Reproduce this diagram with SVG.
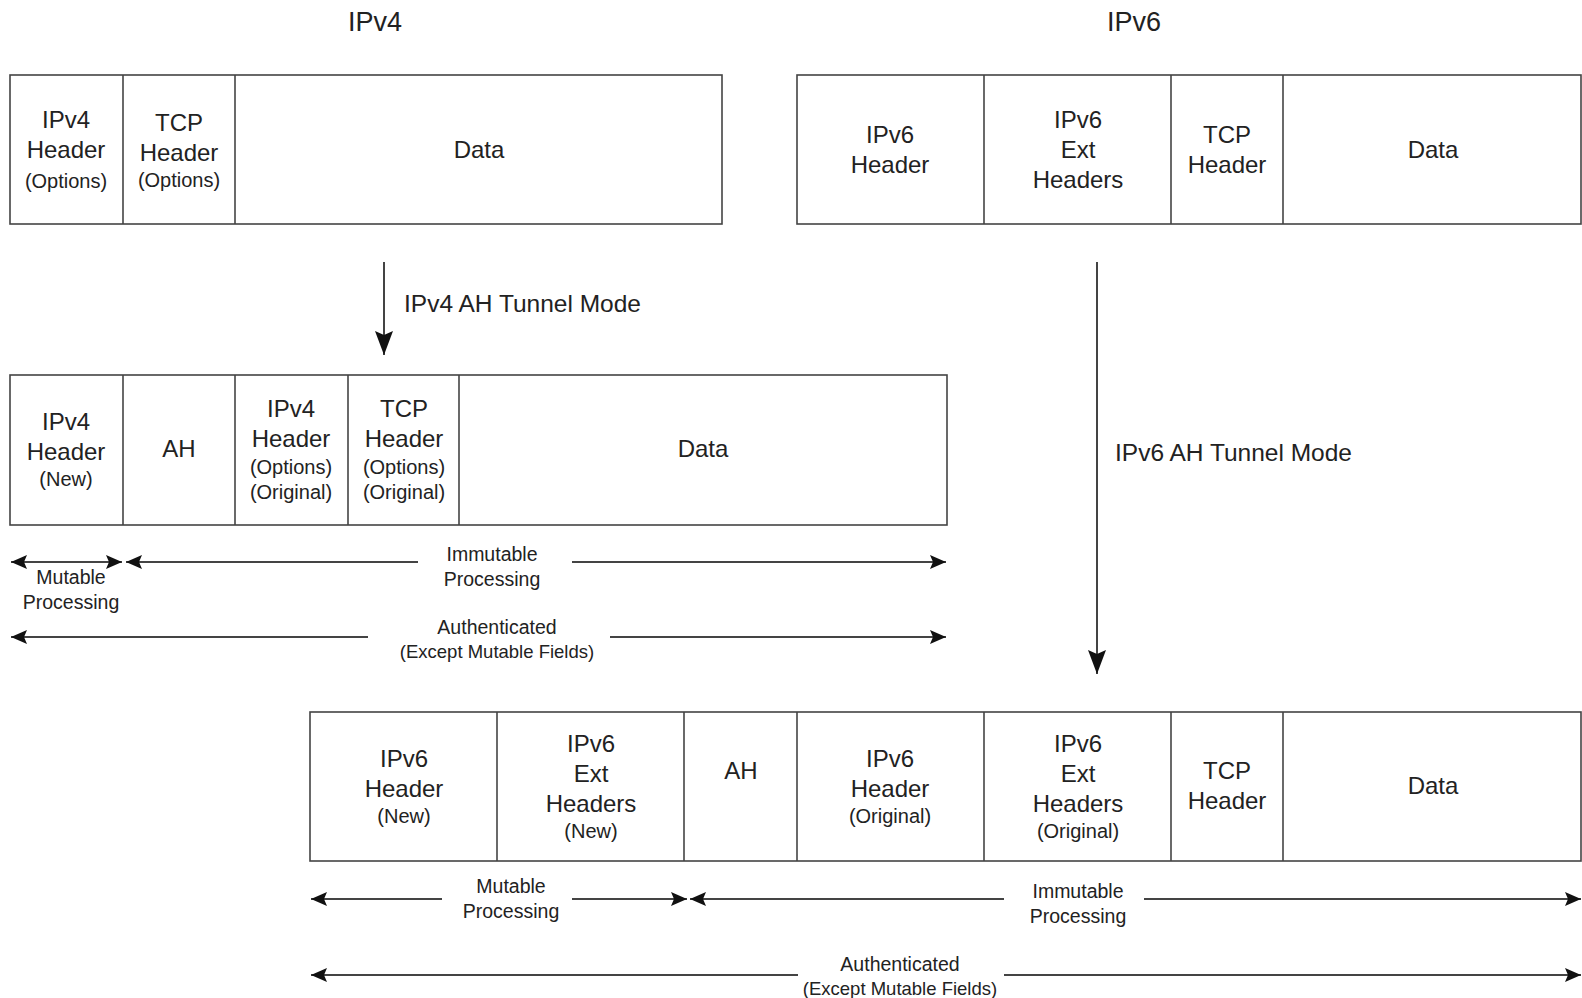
<svg xmlns="http://www.w3.org/2000/svg" width="1582" height="998" viewBox="0 0 1582 998">
<style>
.box{fill:#fff;stroke:#444;stroke-width:1.6}
.div{stroke:#444;stroke-width:1.6}
.t{font-family:"Liberation Sans",Arial,sans-serif;font-size:24px;fill:#222;text-anchor:middle}
.s{font-family:"Liberation Sans",Arial,sans-serif;font-size:20px;fill:#222;text-anchor:middle}
.r{font-family:"Liberation Sans",Arial,sans-serif;font-size:19.5px;fill:#222;text-anchor:middle}
.e{font-family:"Liberation Sans",Arial,sans-serif;font-size:18.5px;fill:#222;text-anchor:middle}
.ttl{font-family:"Liberation Sans",Arial,sans-serif;font-size:27px;fill:#222;text-anchor:middle}
.lbl{font-family:"Liberation Sans",Arial,sans-serif;font-size:24.5px;fill:#222}
.ln{stroke:#444;stroke-width:2;fill:none}
</style>
<defs>
<marker id="ah" markerUnits="userSpaceOnUse" markerWidth="18" markerHeight="16" refX="17" refY="8" orient="auto">
<path d="M1,1 L17,8 L1,15 L4,8 Z" fill="#111"/>
</marker>
<marker id="ahs" markerUnits="userSpaceOnUse" markerWidth="18" markerHeight="16" refX="1" refY="8" orient="auto">
<path d="M17,1 L1,8 L17,15 L14,8 Z" fill="#111"/>
</marker>
<marker id="dn" markerUnits="userSpaceOnUse" markerWidth="20" markerHeight="26" refX="10" refY="25" orient="0">
<path d="M1,1 L10,25 L19,1 L10,5 Z" fill="#111"/>
</marker>
</defs>
<rect width="1582" height="998" fill="#fff"/>

<text class="ttl" x="375" y="31">IPv4</text>
<text class="ttl" x="1134" y="31">IPv6</text>

<g id="ipv4-orig">
<rect class="box" x="10" y="75" width="712" height="149"/>
<line class="div" x1="123" y1="75" x2="123" y2="224"/>
<line class="div" x1="235" y1="75" x2="235" y2="224"/>
<text class="t" x="66" y="128">IPv4</text>
<text class="t" x="66" y="158">Header</text>
<text class="s" x="66" y="188">(Options)</text>
<text class="t" x="179" y="131">TCP</text>
<text class="t" x="179" y="161">Header</text>
<text class="s" x="179" y="187">(Options)</text>
<text class="t" x="479" y="158">Data</text>
</g>

<g id="ipv6-orig">
<rect class="box" x="797" y="75" width="784" height="149"/>
<line class="div" x1="984" y1="75" x2="984" y2="224"/>
<line class="div" x1="1171" y1="75" x2="1171" y2="224"/>
<line class="div" x1="1283" y1="75" x2="1283" y2="224"/>
<text class="t" x="890" y="143">IPv6</text>
<text class="t" x="890" y="173">Header</text>
<text class="t" x="1078" y="128">IPv6</text>
<text class="t" x="1078" y="158">Ext</text>
<text class="t" x="1078" y="188">Headers</text>
<text class="t" x="1227" y="143">TCP</text>
<text class="t" x="1227" y="173">Header</text>
<text class="t" x="1433" y="158">Data</text>
</g>

<g id="ipv4-tunnel">
<rect class="box" x="10" y="375" width="937" height="150"/>
<line class="div" x1="123" y1="375" x2="123" y2="525"/>
<line class="div" x1="235" y1="375" x2="235" y2="525"/>
<line class="div" x1="348" y1="375" x2="348" y2="525"/>
<line class="div" x1="459" y1="375" x2="459" y2="525"/>
<text class="t" x="66" y="430">IPv4</text>
<text class="t" x="66" y="460">Header</text>
<text class="s" x="66" y="486">(New)</text>
<text class="t" x="179" y="457">AH</text>
<text class="t" x="291" y="417">IPv4</text>
<text class="t" x="291" y="447">Header</text>
<text class="s" x="291" y="474">(Options)</text>
<text class="s" x="291" y="499">(Original)</text>
<text class="t" x="404" y="417">TCP</text>
<text class="t" x="404" y="447">Header</text>
<text class="s" x="404" y="474">(Options)</text>
<text class="s" x="404" y="499">(Original)</text>
<text class="t" x="703" y="457">Data</text>
</g>

<g id="ipv6-tunnel">
<rect class="box" x="310" y="712" width="1271" height="149"/>
<line class="div" x1="497" y1="712" x2="497" y2="861"/>
<line class="div" x1="684" y1="712" x2="684" y2="861"/>
<line class="div" x1="797" y1="712" x2="797" y2="861"/>
<line class="div" x1="984" y1="712" x2="984" y2="861"/>
<line class="div" x1="1171" y1="712" x2="1171" y2="861"/>
<line class="div" x1="1283" y1="712" x2="1283" y2="861"/>
<text class="t" x="404" y="767">IPv6</text>
<text class="t" x="404" y="797">Header</text>
<text class="s" x="404" y="823">(New)</text>
<text class="t" x="591" y="752">IPv6</text>
<text class="t" x="591" y="782">Ext</text>
<text class="t" x="591" y="812">Headers</text>
<text class="s" x="591" y="838">(New)</text>
<text class="t" x="741" y="779">AH</text>
<text class="t" x="890" y="767">IPv6</text>
<text class="t" x="890" y="797">Header</text>
<text class="s" x="890" y="823">(Original)</text>
<text class="t" x="1078" y="752">IPv6</text>
<text class="t" x="1078" y="782">Ext</text>
<text class="t" x="1078" y="812">Headers</text>
<text class="s" x="1078" y="838">(Original)</text>
<text class="t" x="1227" y="779">TCP</text>
<text class="t" x="1227" y="809">Header</text>
<text class="t" x="1433" y="794">Data</text>
</g>

<g id="connectors">
<line class="ln" x1="384" y1="262" x2="384" y2="355" marker-end="url(#dn)"/>
<text class="lbl" x="404" y="312">IPv4 AH Tunnel Mode</text>
<line class="ln" x1="1097" y1="262" x2="1097" y2="674" marker-end="url(#dn)"/>
<text class="lbl" x="1115" y="461">IPv6 AH Tunnel Mode</text>

<line class="ln" x1="11" y1="562" x2="122" y2="562" marker-start="url(#ahs)" marker-end="url(#ah)"/>
<line class="ln" x1="126" y1="562" x2="418" y2="562" marker-start="url(#ahs)"/>
<line class="ln" x1="572" y1="562" x2="946" y2="562" marker-end="url(#ah)"/>
<text class="r" x="492" y="561">Immutable</text>
<text class="r" x="492" y="586">Processing</text>
<text class="r" x="71" y="584">Mutable</text>
<text class="r" x="71" y="609">Processing</text>
<line class="ln" x1="11" y1="637" x2="368" y2="637" marker-start="url(#ahs)"/>
<line class="ln" x1="610" y1="637" x2="946" y2="637" marker-end="url(#ah)"/>
<text class="r" x="497" y="634">Authenticated</text>
<text class="e" x="497" y="658">(Except Mutable Fields)</text>

<line class="ln" x1="311" y1="899" x2="442" y2="899" marker-start="url(#ahs)"/>
<line class="ln" x1="572" y1="899" x2="687" y2="899" marker-end="url(#ah)"/>
<text class="r" x="511" y="893">Mutable</text>
<text class="r" x="511" y="918">Processing</text>
<line class="ln" x1="690" y1="899" x2="1004" y2="899" marker-start="url(#ahs)"/>
<line class="ln" x1="1144" y1="899" x2="1581" y2="899" marker-end="url(#ah)"/>
<text class="r" x="1078" y="898">Immutable</text>
<text class="r" x="1078" y="923">Processing</text>
<line class="ln" x1="311" y1="975" x2="798" y2="975" marker-start="url(#ahs)"/>
<line class="ln" x1="1004" y1="975" x2="1581" y2="975" marker-end="url(#ah)"/>
<text class="r" x="900" y="971">Authenticated</text>
<text class="e" x="900" y="995">(Except Mutable Fields)</text>
</g>
</svg>
